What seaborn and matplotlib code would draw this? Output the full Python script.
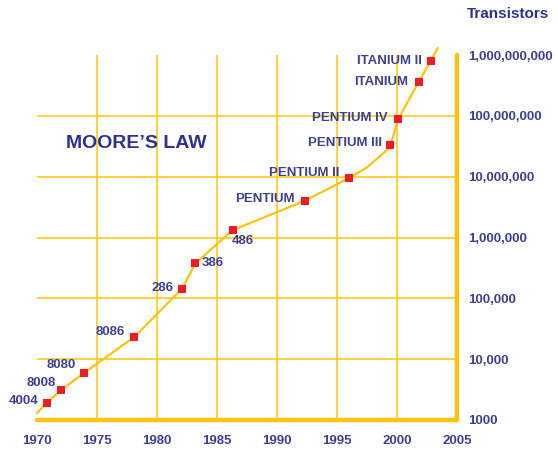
import matplotlib
matplotlib.use("Agg")
import matplotlib.pyplot as plt
import seaborn as sns
import pandas as pd
from matplotlib.ticker import FixedLocator, FixedFormatter, NullLocator

# ─────────────────────────────────────────────
# DATA
# ─────────────────────────────────────────────
chips = ["4004", "8008", "8080", "8086", "286", "386", "486",
         "PENTIUM", "PENTIUM II", "PENTIUM III", "PENTIUM IV",
         "ITANIUM", "ITANIUM II"]
chip_years = [1970.8, 1972.0, 1973.9, 1978.1, 1982.1, 1983.2, 1986.3,
              1992.3, 1996.0, 1999.4, 2000.1, 2001.8, 2002.8]
chip_transistors = [1.9e3, 3.1e3, 5.9e3, 2.3e4, 1.45e5, 3.75e5, 1.32e6,
                    4.0e6, 9.5e6, 3.3e7, 8.8e7, 3.6e8, 7.9e8]

# trend line drawn through the chips (with a couple of extra bends)
trend_years = [1970.0, 1970.8, 1972.0, 1973.9, 1978.1, 1982.1, 1983.2,
               1986.3, 1992.3, 1996.0, 1997.5, 1999.4, 2000.1, 2001.8,
               2002.8, 2003.4]
trend_values = [1.3e3, 1.9e3, 3.1e3, 5.9e3, 2.3e4, 1.45e5, 3.75e5,
                1.32e6, 4.0e6, 9.5e6, 1.42e7, 3.0e7, 8.8e7, 3.6e8,
                7.9e8, 1.3e9]

year_ticks = [1970, 1975, 1980, 1985, 1990, 1995, 2000, 2005]
count_ticks = [1e3, 1e4, 1e5, 1e6, 1e7, 1e8, 1e9]
count_labels = ["1000", "10,000", "100,000", "1,000,000", "10,000,000",
                "100,000,000", "1,000,000,000"]

chips_df = pd.DataFrame({"year": chip_years, "transistors": chip_transistors, "chip": chips})
trend_df = pd.DataFrame({"year": trend_years, "transistors": trend_values})

# label placement: (ha, dx px, dy px)
label_pos = {
    "4004": ("right", -8, 2), "8008": ("right", -5, 7), "8080": ("right", -8, 8),
    "8086": ("right", -9, 5), "286": ("right", -9, 1), "386": ("left", 6, 0),
    "486": ("left", -1, -11), "PENTIUM": ("right", -10, 2),
    "PENTIUM II": ("right", -10, 5), "PENTIUM III": ("right", -8, 2),
    "PENTIUM IV": ("right", -11, 1), "ITANIUM": ("right", -10, 0),
    "ITANIUM II": ("right", -9, 0),
}

# ─────────────────────────────────────────────
# STYLE
# ─────────────────────────────────────────────
sns.set_style("white")
plt.rcParams["font.family"] = ["Liberation Sans", "DejaVu Sans"]
plt.rcParams["font.weight"] = "bold"

YELLOW = "#ffc20e"
GRID = "#ffcb1a"
RED = "#ee1c25"
NAVY = "#2e3192"
LABEL = "#3d4090"

fig = plt.figure(figsize=(5.58, 4.5), dpi=100)
ax = fig.add_axes([37 / 558, 1 - 420 / 450, 420 / 558, 365 / 450])

sns.lineplot(data=trend_df, x="year", y="transistors", ax=ax, color=YELLOW,
             linewidth=1.6, sort=False, estimator=None, zorder=3)
for ln in ax.get_lines():
    ln.set_clip_on(False)

sns.scatterplot(data=chips_df, x="year", y="transistors", ax=ax, marker="s",
                color=RED, s=30, linewidth=0, zorder=4, clip_on=False)

ax.set_yscale("log")
ax.set_xlim(1970, 2005)
ax.set_ylim(1e3, 1e9)

ax.xaxis.set_major_locator(FixedLocator(year_ticks))
ax.yaxis.set_major_locator(FixedLocator(count_ticks))
ax.yaxis.set_major_formatter(FixedFormatter(count_labels))
ax.yaxis.set_minor_locator(NullLocator())
ax.yaxis.tick_right()

ax.tick_params(axis="x", length=0, pad=11, labelsize=9.5, labelcolor=LABEL)
ax.tick_params(axis="y", length=0, pad=8, labelsize=9.5, labelcolor=LABEL)
ax.set_xlabel("")
ax.set_ylabel("")

ax.grid(True, color=GRID, linewidth=1.2)
xg = ax.xaxis.get_gridlines()
xg[0].set_visible(False)
xg[-1].set_visible(False)
yg = ax.yaxis.get_gridlines()
yg[0].set_visible(False)
yg[-1].set_visible(False)

for side in ["left", "top"]:
    ax.spines[side].set_visible(False)
for side in ["right", "bottom"]:
    ax.spines[side].set_color(YELLOW)
    ax.spines[side].set_linewidth(3.2)
    ax.spines[side].set_capstyle("round")

for name, yr, val in zip(chips, chip_years, chip_transistors):
    ha, dx, dy = label_pos[name]
    ax.annotate(name, xy=(yr, val), xytext=(dx * 0.72, dy * 0.72),
                textcoords="offset points", ha=ha, va="center",
                fontsize=9.5, fontweight="bold", color=LABEL,
                annotation_clip=False, zorder=5)

fig.text(136 / 558, 1 - 144 / 450, "MOORE\u2019S LAW", ha="center", va="center",
         fontsize=14, fontweight="bold", color=NAVY)
fig.text(508 / 558, 1 - 14 / 450, "Transistors", ha="center", va="center",
         fontsize=11, fontweight="bold", color=NAVY)

fig.savefig("out.png", dpi=100)
